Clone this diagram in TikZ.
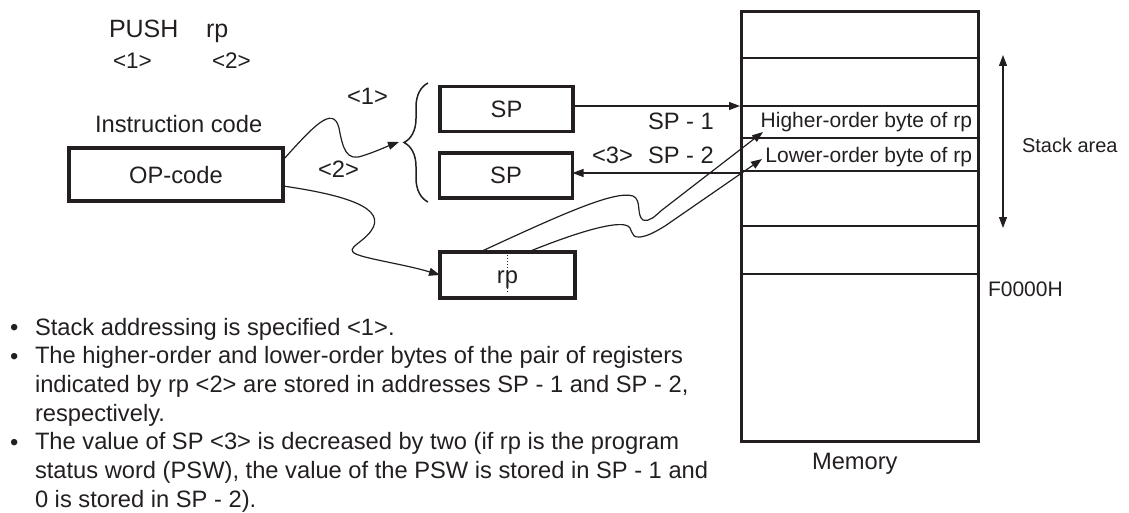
\documentclass[tikz,border=0pt]{standalone}
\usepackage{fontspec}
\setmainfont{Liberation Sans}
\usetikzlibrary{arrows.meta,decorations.pathreplacing}
\definecolor{ink}{RGB}{35,31,32}
\newcommand\fsz[1]{\fontsize{#1}{#1}\selectfont}
\begin{document}
\begin{tikzpicture}[x=1pt,y=-1pt,
  every node/.style={inner sep=0pt, outer sep=0pt, text=ink},
  lbl/.style={font=\fsz{23.7}},
  sm/.style={font=\fsz{21}},
  box/.style={draw=ink, line width=3.5pt, font=\fsz{23.7}, text height=17pt, text depth=0pt},
  thinl/.style={draw=ink, line width=1.2pt},
  arr/.style={thinl, -{Triangle[length=11pt,width=8pt]}},
  darr/.style={thinl, {Triangle[length=11pt,width=8pt]}-{Triangle[length=11pt,width=8pt]}},
]
\useasboundingbox (0,0) rectangle (1129,513);

% header
\node[font=\fsz{25}, anchor=base west] (push) at (109,38) {PUSH};
\node[font=\fsz{25}, anchor=base west] (rpl) at (206,38) {rp};
\node[font=\fsz{22.5}, anchor=base west] (n1) at (113,69) {<1>};
\node[font=\fsz{22.5}, anchor=base west] (n2) at (212,69) {<2>};
\node[lbl, anchor=base west] (ic) at (95,133) {Instruction code};

% boxes
\node[box, minimum width=214pt, minimum height=53pt] (op) at (176,174.5) {OP-code};
\node[box, minimum width=133pt, minimum height=45pt] (sp1) at (506.5,109) {SP};
\node[box, minimum width=133pt, minimum height=45pt] (sp2) at (506,175.5) {SP};
\node[box, minimum width=135pt, minimum height=46pt] (rp) at (507.5,275) {rp};
\draw[ink, line width=1pt, dotted] ([yshift=-3pt]rp.north) -- ([yshift=5pt]rp.south);

% memory
\node[draw=ink, line width=3.5pt, minimum width=237pt, minimum height=430pt] (mem) at (860,226.5) {};
\foreach \yy in {58,106,171,226,274} \draw[thinl] (741,\yy) -- (979,\yy);
\draw[ink, line width=2.6pt] (741,138) -- (979,138);
\node[sm, anchor=base east] (hi) at (972,128) {Higher-order byte of rp};
\node[sm, anchor=base east] (lo) at (972,163) {Lower-order byte of rp};
\node[lbl, anchor=base west] (memlbl) at (812,469) {Memory};
\node[sm, anchor=base west] (f0) at (988,296) {F0000H};
\coordinate (sat) at (1003,55);
\coordinate (sab) at (1003,228);
\draw[darr] (sat) -- (sab);
\node[font=\fsz{20}, anchor=base west] (sa) at (1022,153) {Stack area};

% brace
\draw[ink, line width=1.5pt, decorate, decoration={brace, amplitude=24pt}] (428,202) -- (428,83);
\coordinate (btip) at (399,142);

% instruction arrows
\coordinate (l1) at (352,105);
\node[lbl, anchor=base west] at (347,105) {<1>};
\node[lbl, anchor=base west] at (318,178) {<2>};
\draw[arr] ([yshift=14.5pt]op.east) .. controls (312,128) and (333,104) .. (339,128)
  .. controls (343,150) and (347,161) .. (362,156) .. controls (375,152) and (388,146) .. (btip);
\draw[arr] ([yshift=-11.5pt]op.east) .. controls (345,195) and (388,208) .. (371,231)
  .. controls (360,246) and (338,250) .. (365,257) .. controls (385,262) and (410,266) .. (rp.west);

% SP arrows
\coordinate (m1) at (740,106);
\coordinate (m2) at (740,173);
\draw[arr] (sp1.east |- m1) -- (m1);
\draw[arr] (m2) -- (sp2.east |- m2);
\node[lbl, anchor=base west] (s1) at (648,130) {SP - 1};
\node[lbl, anchor=base west] (s2) at (648,164) {SP - 2};
\node[lbl, anchor=base west] (t3) at (592,164) {<3>};

% rp to memory
\coordinate (hit) at (763,132);
\coordinate (lot) at (762,159);
\coordinate (r1) at (480,252);
\coordinate (r2) at (528,252);
\draw[arr] (r1) .. controls (560,215) and (615,190) .. (633,196)
  .. controls (642,200) and (636,215) .. (643,220) .. controls (650,222) and (655,216) .. (662,210) -- (hit);
\draw[arr] (r2) .. controls (570,235) and (610,222) .. (625,225)
  .. controls (635,227) and (628,238) .. (640,237) .. controls (648,236) and (655,232) .. (665,226) -- (lot);

% bullets
\foreach \yy in {335,364,450} \node[lbl, anchor=base west] at (10,\yy) {\textbullet};
\node[lbl, anchor=base west] (b1) at (35,335) {Stack addressing is specified <1>.};
\node[lbl, anchor=base west] (b2) at (35,363.7) {The higher-order and lower-order bytes of the pair of registers};
\node[lbl, anchor=base west] (b3) at (35,392.4) {indicated by rp <2> are stored in addresses SP - 1 and SP - 2,};
\node[lbl, anchor=base west] (b4) at (35,421.1) {respectively.};
\node[lbl, anchor=base west] (b5) at (35,449.8) {The value of SP <3> is decreased by two (if rp is the program};
\node[lbl, anchor=base west] (b6) at (35,478.5) {status word (PSW), the value of the PSW is stored in SP - 1 and};
\node[lbl, anchor=base west] (b7) at (35,507.2) {0 is stored in SP - 2).};
\end{tikzpicture}
\end{document}
